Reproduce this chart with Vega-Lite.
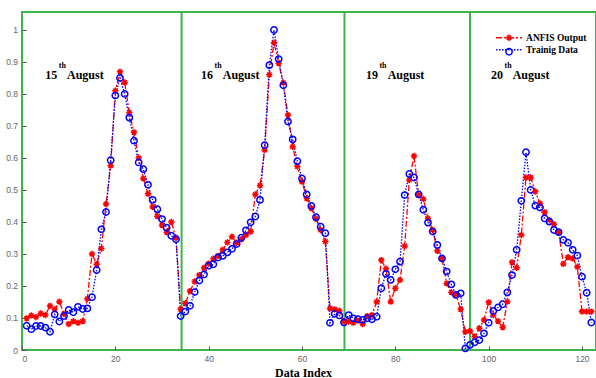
{
 "$schema": "https://vega.github.io/schema/vega-lite/v6.json",
 "width": 574,
 "height": 338,
 "autosize": {"type": "none"},
 "padding": {"left": 22, "top": 12, "right": 0, "bottom": 28},
 "background": "white",
 "config": {
  "view": {"stroke": "#3db54a", "strokeWidth": 2},
  "axis": {"grid": false, "domain": false, "labelOverlap": false, "tickSize": -4, "tickColor": "#555",
   "labelFont": "Liberation Sans", "labelFontSize": 8.5, "labelColor": "#666"},
  "axisX": {"labelPadding": 8, "titleFont": "Liberation Serif", "titleFontWeight": "bold",
   "titleFontSize": 12, "titleColor": "black", "titleX": 281, "titleY": 22, "titleBaseline": "middle"},
  "axisY": {"labelPadding": 8.5}
 },
 "datasets": {
  "main": [
   {"i":1,"ANFIS Output":0.099,"Trainig Data":0.076},
   {"i":2,"ANFIS Output":0.108,"Trainig Data":0.065},
   {"i":3,"ANFIS Output":0.103,"Trainig Data":0.075},
   {"i":4,"ANFIS Output":0.114,"Trainig Data":0.075},
   {"i":5,"ANFIS Output":0.109,"Trainig Data":0.070},
   {"i":6,"ANFIS Output":0.138,"Trainig Data":0.057},
   {"i":7,"ANFIS Output":0.127,"Trainig Data":0.111},
   {"i":8,"ANFIS Output":0.151,"Trainig Data":0.089},
   {"i":9,"ANFIS Output":0.113,"Trainig Data":0.106},
   {"i":10,"ANFIS Output":0.081,"Trainig Data":0.125},
   {"i":11,"ANFIS Output":0.090,"Trainig Data":0.118},
   {"i":12,"ANFIS Output":0.085,"Trainig Data":0.135},
   {"i":13,"ANFIS Output":0.090,"Trainig Data":0.128},
   {"i":14,"ANFIS Output":0.160,"Trainig Data":0.130},
   {"i":15,"ANFIS Output":0.300,"Trainig Data":0.165},
   {"i":16,"ANFIS Output":0.268,"Trainig Data":0.250},
   {"i":17,"ANFIS Output":0.317,"Trainig Data":0.377},
   {"i":18,"ANFIS Output":0.456,"Trainig Data":0.431},
   {"i":19,"ANFIS Output":0.576,"Trainig Data":0.593},
   {"i":20,"ANFIS Output":0.810,"Trainig Data":0.795},
   {"i":21,"ANFIS Output":0.869,"Trainig Data":0.850},
   {"i":22,"ANFIS Output":0.836,"Trainig Data":0.800},
   {"i":23,"ANFIS Output":0.742,"Trainig Data":0.726},
   {"i":24,"ANFIS Output":0.680,"Trainig Data":0.654},
   {"i":25,"ANFIS Output":0.600,"Trainig Data":0.586},
   {"i":26,"ANFIS Output":0.536,"Trainig Data":0.565},
   {"i":27,"ANFIS Output":0.488,"Trainig Data":0.516},
   {"i":28,"ANFIS Output":0.447,"Trainig Data":0.469},
   {"i":29,"ANFIS Output":0.418,"Trainig Data":0.440},
   {"i":30,"ANFIS Output":0.390,"Trainig Data":0.409},
   {"i":31,"ANFIS Output":0.368,"Trainig Data":0.382},
   {"i":32,"ANFIS Output":0.400,"Trainig Data":0.357},
   {"i":33,"ANFIS Output":0.351,"Trainig Data":0.346},
   {"i":34,"ANFIS Output":0.127,"Trainig Data":0.106},
   {"i":35,"ANFIS Output":0.146,"Trainig Data":0.120},
   {"i":36,"ANFIS Output":0.184,"Trainig Data":0.138},
   {"i":37,"ANFIS Output":0.214,"Trainig Data":0.181},
   {"i":38,"ANFIS Output":0.234,"Trainig Data":0.217},
   {"i":39,"ANFIS Output":0.257,"Trainig Data":0.236},
   {"i":40,"ANFIS Output":0.270,"Trainig Data":0.263},
   {"i":41,"ANFIS Output":0.285,"Trainig Data":0.268},
   {"i":42,"ANFIS Output":0.294,"Trainig Data":0.289},
   {"i":43,"ANFIS Output":0.313,"Trainig Data":0.294},
   {"i":44,"ANFIS Output":0.336,"Trainig Data":0.305},
   {"i":45,"ANFIS Output":0.354,"Trainig Data":0.316},
   {"i":46,"ANFIS Output":0.335,"Trainig Data":0.331},
   {"i":47,"ANFIS Output":0.346,"Trainig Data":0.351},
   {"i":48,"ANFIS Output":0.359,"Trainig Data":0.374},
   {"i":49,"ANFIS Output":0.370,"Trainig Data":0.399},
   {"i":50,"ANFIS Output":0.486,"Trainig Data":0.417},
   {"i":51,"ANFIS Output":0.514,"Trainig Data":0.469},
   {"i":52,"ANFIS Output":0.625,"Trainig Data":0.640},
   {"i":53,"ANFIS Output":0.860,"Trainig Data":0.890},
   {"i":54,"ANFIS Output":0.960,"Trainig Data":1.000},
   {"i":55,"ANFIS Output":0.896,"Trainig Data":0.909},
   {"i":56,"ANFIS Output":0.835,"Trainig Data":0.827},
   {"i":57,"ANFIS Output":0.734,"Trainig Data":0.714},
   {"i":58,"ANFIS Output":0.635,"Trainig Data":0.658},
   {"i":59,"ANFIS Output":0.573,"Trainig Data":0.590},
   {"i":60,"ANFIS Output":0.526,"Trainig Data":0.536},
   {"i":61,"ANFIS Output":0.474,"Trainig Data":0.486},
   {"i":62,"ANFIS Output":0.443,"Trainig Data":0.450},
   {"i":63,"ANFIS Output":0.410,"Trainig Data":0.415},
   {"i":64,"ANFIS Output":0.375,"Trainig Data":0.385},
   {"i":65,"ANFIS Output":0.339,"Trainig Data":0.365},
   {"i":66,"ANFIS Output":0.130,"Trainig Data":0.085},
   {"i":67,"ANFIS Output":0.127,"Trainig Data":0.113},
   {"i":68,"ANFIS Output":0.123,"Trainig Data":0.108},
   {"i":69,"ANFIS Output":0.089,"Trainig Data":0.086},
   {"i":70,"ANFIS Output":0.089,"Trainig Data":0.109},
   {"i":71,"ANFIS Output":0.085,"Trainig Data":0.099},
   {"i":72,"ANFIS Output":0.092,"Trainig Data":0.096},
   {"i":73,"ANFIS Output":0.081,"Trainig Data":0.094},
   {"i":74,"ANFIS Output":0.106,"Trainig Data":0.099},
   {"i":75,"ANFIS Output":0.109,"Trainig Data":0.096},
   {"i":76,"ANFIS Output":0.151,"Trainig Data":0.104},
   {"i":77,"ANFIS Output":0.281,"Trainig Data":0.193},
   {"i":78,"ANFIS Output":0.254,"Trainig Data":0.238},
   {"i":79,"ANFIS Output":0.151,"Trainig Data":0.219},
   {"i":80,"ANFIS Output":0.193,"Trainig Data":0.252},
   {"i":81,"ANFIS Output":0.219,"Trainig Data":0.276},
   {"i":82,"ANFIS Output":0.325,"Trainig Data":0.484},
   {"i":83,"ANFIS Output":0.531,"Trainig Data":0.550},
   {"i":84,"ANFIS Output":0.606,"Trainig Data":0.539},
   {"i":85,"ANFIS Output":0.484,"Trainig Data":0.486},
   {"i":86,"ANFIS Output":0.472,"Trainig Data":0.438},
   {"i":87,"ANFIS Output":0.411,"Trainig Data":0.398},
   {"i":88,"ANFIS Output":0.375,"Trainig Data":0.370},
   {"i":89,"ANFIS Output":0.310,"Trainig Data":0.328},
   {"i":90,"ANFIS Output":0.286,"Trainig Data":0.286},
   {"i":91,"ANFIS Output":0.208,"Trainig Data":0.245},
   {"i":92,"ANFIS Output":0.180,"Trainig Data":0.205},
   {"i":93,"ANFIS Output":0.172,"Trainig Data":0.172},
   {"i":94,"ANFIS Output":0.127,"Trainig Data":0.177},
   {"i":95,"ANFIS Output":0.057,"Trainig Data":0.005},
   {"i":96,"ANFIS Output":0.059,"Trainig Data":0.016},
   {"i":97,"ANFIS Output":0.042,"Trainig Data":0.024},
   {"i":98,"ANFIS Output":0.068,"Trainig Data":0.031},
   {"i":99,"ANFIS Output":0.094,"Trainig Data":0.052},
   {"i":100,"ANFIS Output":0.149,"Trainig Data":0.085},
   {"i":101,"ANFIS Output":0.109,"Trainig Data":0.122},
   {"i":102,"ANFIS Output":0.090,"Trainig Data":0.133},
   {"i":103,"ANFIS Output":0.071,"Trainig Data":0.143},
   {"i":104,"ANFIS Output":0.151,"Trainig Data":0.180},
   {"i":105,"ANFIS Output":0.274,"Trainig Data":0.234},
   {"i":106,"ANFIS Output":0.257,"Trainig Data":0.313},
   {"i":107,"ANFIS Output":0.359,"Trainig Data":0.466},
   {"i":108,"ANFIS Output":0.539,"Trainig Data":0.618},
   {"i":109,"ANFIS Output":0.539,"Trainig Data":0.500},
   {"i":110,"ANFIS Output":0.495,"Trainig Data":0.451},
   {"i":111,"ANFIS Output":0.458,"Trainig Data":0.445},
   {"i":112,"ANFIS Output":0.430,"Trainig Data":0.411},
   {"i":113,"ANFIS Output":0.406,"Trainig Data":0.401},
   {"i":114,"ANFIS Output":0.393,"Trainig Data":0.375},
   {"i":115,"ANFIS Output":0.368,"Trainig Data":0.368},
   {"i":116,"ANFIS Output":0.269,"Trainig Data":0.344},
   {"i":117,"ANFIS Output":0.290,"Trainig Data":0.335},
   {"i":118,"ANFIS Output":0.286,"Trainig Data":0.313},
   {"i":119,"ANFIS Output":0.260,"Trainig Data":0.295},
   {"i":120,"ANFIS Output":0.120,"Trainig Data":0.229},
   {"i":121,"ANFIS Output":0.120,"Trainig Data":0.179},
   {"i":122,"ANFIS Output":0.120,"Trainig Data":0.086}
  ],
  "dividers": [{"x": 34.2}, {"x": 69.1}, {"x": 96}],
  "days": [
   {"day": "15", "x": 4.99},
   {"day": "16", "x": 38.36},
   {"day": "19", "x": 73.7},
   {"day": "20", "x": 100.5}
  ]
 },
 "layer": [
  {
   "data": {"name": "main"},
   "transform": [{"fold": ["ANFIS Output", "Trainig Data"], "as": ["series", "value"]}],
   "mark": {"type": "line", "strokeWidth": 1.3},
   "encoding": {
    "x": {
     "field": "i", "type": "quantitative",
     "scale": {"domain": [0, 123], "nice": false, "zero": false},
     "axis": {"values": [0, 20, 40, 60, 80, 100, 120], "format": "d", "title": "Data Index"}
    },
    "y": {
     "field": "value", "type": "quantitative",
     "scale": {"domain": [0, 1.056], "nice": false},
     "axis": {"values": [0, 0.1, 0.2, 0.3, 0.4, 0.5, 0.6, 0.7, 0.8, 0.9, 1], "format": "~g", "title": null}
    },
    "color": {
     "field": "series", "type": "nominal",
     "scale": {"domain": ["ANFIS Output", "Trainig Data"], "range": ["#ff0000", "#0000ff"]},
     "legend": {
      "orient": "none", "legendX": 482.3, "legendY": 21, "title": null,
      "symbolType": "M-4.33,0H4.33", "symbolSize": 36, "symbolStrokeWidth": 1.3,
      "labelFont": "Liberation Serif", "labelFontWeight": "bold", "labelFontSize": 9.5,
      "labelColor": "black", "rowPadding": 1, "labelOffset": 12.25
     }
    },
    "strokeDash": {
     "field": "series", "type": "nominal",
     "scale": {"domain": ["ANFIS Output", "Trainig Data"], "range": [[6, 2, 2, 2], [1.5, 1.5]]}
    }
   }
  },
  {
   "data": {"name": "dividers"},
   "mark": {"type": "rule", "color": "#3db54a", "strokeWidth": 2},
   "encoding": {
    "x": {"field": "x", "type": "quantitative",
     "axis": {"values": [0, 20, 40, 60, 80, 100, 120], "format": "d", "title": "Data Index"}}
   }
  },
  {
   "data": {"name": "main"},
   "transform": [{"fold": ["ANFIS Output", "Trainig Data"], "as": ["series", "value"]}],
   "mark": {"type": "point", "size": 40, "strokeWidth": 1.5, "opacity": 1, "fill": "transparent"},
   "encoding": {
    "x": {"field": "i", "type": "quantitative",
     "axis": {"values": [0, 20, 40, 60, 80, 100, 120], "format": "d", "title": "Data Index"}},
    "y": {"field": "value", "type": "quantitative",
     "axis": {"values": [0, 0.1, 0.2, 0.3, 0.4, 0.5, 0.6, 0.7, 0.8, 0.9, 1], "format": "~g", "title": null}},
    "stroke": {
     "field": "series", "type": "nominal",
     "scale": {"range": ["#ff0000", "#0000ff"]},
     "legend": {
      "orient": "none", "legendX": 482.3, "legendY": 21, "title": null,
      "symbolSize": 40, "symbolStrokeWidth": 1.5, "symbolFillColor": "white",
      "labelFont": "Liberation Serif", "labelFontWeight": "bold", "labelFontSize": 9.5,
      "labelColor": "transparent", "labelExpr": "' '", "rowPadding": 1, "labelOffset": 12.25
     }
    },
    "shape": {
     "field": "series", "type": "nominal",
     "scale": {"range": ["M0,-1V1M-1,0H1M-0.7,-0.7L0.7,0.7M-0.7,0.7L0.7,-0.7", "circle"]},
     "legend": {
      "orient": "none", "legendX": 482.3, "legendY": 21, "title": null,
      "symbolSize": 40, "symbolStrokeWidth": 1.5, "symbolFillColor": "white",
      "labelFont": "Liberation Serif", "labelFontWeight": "bold", "labelFontSize": 9.5,
      "labelColor": "transparent", "labelExpr": "' '", "rowPadding": 1, "labelOffset": 12.25
     }
    }
   }
  },
  {
   "data": {"name": "days"},
   "mark": {"type": "text", "align": "left", "baseline": "middle", "font": "Liberation Serif", "fontWeight": "bold", "fontSize": 12, "color": "black"},
   "encoding": {
    "x": {"field": "x", "type": "quantitative",
     "axis": {"values": [0, 20, 40, 60, 80, 100, 120], "format": "d", "title": "Data Index"}},
    "y": {"datum": 0.859, "type": "quantitative",
     "axis": {"values": [0, 0.1, 0.2, 0.3, 0.4, 0.5, 0.6, 0.7, 0.8, 0.9, 1], "format": "~g", "title": null}},
    "text": {"field": "day"}
   }
  },
  {
   "data": {"name": "days"},
   "mark": {"type": "text", "text": "th", "align": "left", "baseline": "middle", "dx": 13.5, "dy": -9, "font": "Liberation Serif", "fontWeight": "bold", "fontSize": 8, "color": "black"},
   "encoding": {
    "x": {"field": "x", "type": "quantitative",
     "axis": {"values": [0, 20, 40, 60, 80, 100, 120], "format": "d", "title": "Data Index"}},
    "y": {"datum": 0.859, "type": "quantitative",
     "axis": {"values": [0, 0.1, 0.2, 0.3, 0.4, 0.5, 0.6, 0.7, 0.8, 0.9, 1], "format": "~g", "title": null}}
   }
  },
  {
   "data": {"name": "days"},
   "mark": {"type": "text", "text": "August", "align": "left", "baseline": "middle", "dx": 21.7, "font": "Liberation Serif", "fontWeight": "bold", "fontSize": 12, "color": "black"},
   "encoding": {
    "x": {"field": "x", "type": "quantitative",
     "axis": {"values": [0, 20, 40, 60, 80, 100, 120], "format": "d", "title": "Data Index"}},
    "y": {"datum": 0.859, "type": "quantitative",
     "axis": {"values": [0, 0.1, 0.2, 0.3, 0.4, 0.5, 0.6, 0.7, 0.8, 0.9, 1], "format": "~g", "title": null}}
   }
  }
 ]
}
